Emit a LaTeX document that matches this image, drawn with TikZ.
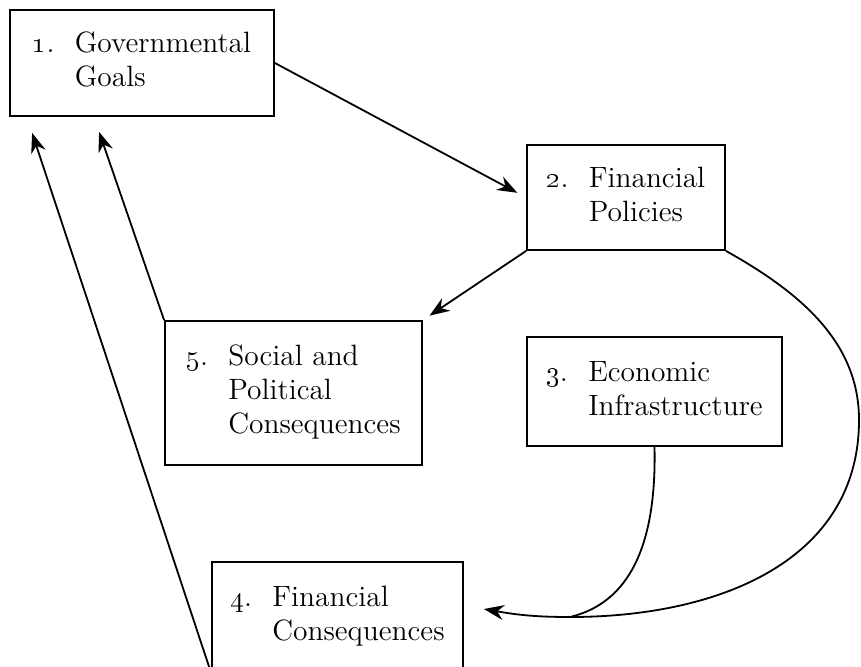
\documentclass[tikz,border=0pt]{standalone}
\usepackage{tikz}
\usetikzlibrary{arrows.meta}
\tikzset{%
    factor/.style={%
        draw, line width=0.9pt, inner sep=0pt,
        font=\fontsize{14.7}{17}\selectfont
    },
    link/.style={line width=0.9pt, -{Stealth[length=10pt,width=7.5pt]}},
    flow/.style={line width=0.9pt}
}
\newcommand{\factorlabel}[2]{\begin{tabular}{@{}p{21pt}@{}l@{}}\oldstylenums{#1}. & #2\end{tabular}}

\begin{document}
\begin{tikzpicture}[x=0.5pt,y=-0.5pt]
    \useasboundingbox (0,0) rectangle (861,666);
    \node[factor, minimum width=132pt, minimum height=53pt] (goals) at (142,63)
        {\factorlabel{1}{Governmental\\ & Goals}};
    \node[factor, minimum width=99pt, minimum height=52.5pt] (policies) at (626,197.5)
        {\factorlabel{2}{Financial\\ & Policies}};
    \node[factor, minimum width=127.5pt, minimum height=54.5pt] (infra) at (654.5,391.5)
        {\factorlabel{3}{Economic\\ & Infrastructure}};
    \node[factor, minimum width=128.5pt, minimum height=72pt] (social) at (293.5,393)
        {\factorlabel{5}{Social and\\ & Political\\ & Consequences}};
    \node[factor, minimum width=125.5pt, minimum height=55pt] (finance) at (337.5,617)
        {\raisebox{3pt}{\factorlabel{4}{Financial\\ & Consequences}}};
    \coordinate (bend) at (859,420);
    \coordinate (merge) at (570,617);
    \draw[link, shorten >=5pt] (goals.east) -- (policies.west);
    \draw[link, shorten >=4pt] (policies.south west) -- (social.north east);
    \draw[link] (social.north west) -- ([shift={(90,15)}]goals.south west);
    \draw[link] (finance.south west) -- ([shift={(23,16)}]goals.south west);
    \draw[flow] (policies.south east) .. controls (805,295) and (859,345) .. (bend)
        .. controls (859,560) and (720,617) .. (merge);
    \draw[flow] (infra.south) .. controls (657,560) and (620,605) .. (merge);
    \draw[link] (merge) to[out=180,in=-10] ([shift={(20,-8)}]finance.east);
\end{tikzpicture}
\end{document}
